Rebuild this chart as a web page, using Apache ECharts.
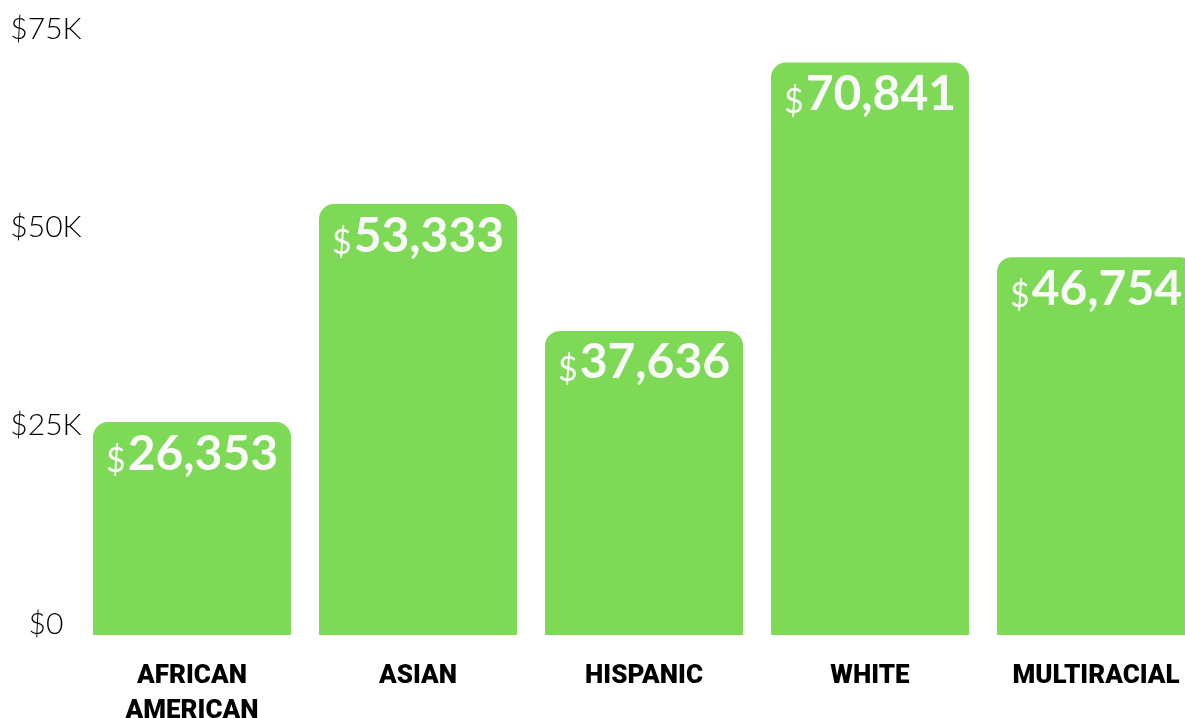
<!DOCTYPE html>
<html>
<head>
<meta charset="utf-8">
<script src="https://cdn.jsdelivr.net/npm/echarts@6/dist/echarts.min.js"></script>
<style>
html,body{margin:0;padding:0;background:#fff;}
#c{width:1185px;height:718px;}
</style>
</head>
<body>
<div id="c"></div>
<script>
const categories = ['AFRICAN\nAMERICAN', 'ASIAN', 'HISPANIC', 'WHITE', 'MULTIRACIAL'];
const incomes = [26353, 53333, 37636, 70841, 46754];
const yTickLabels = ['$0', '$25K', '$50K', '$75K'];

const chart = echarts.init(document.getElementById('c'));
chart.setOption({
  backgroundColor: '#ffffff',
  animation: false,
  grid: [
    { left: 79, width: 1130, top: 29, bottom: 83, outerBoundsMode: 'none', containLabel: false },
    { left: 79, width: 1130, top: 29, bottom: 94, outerBoundsMode: 'none', containLabel: false }
  ],
  xAxis: [
    {
      type: 'category', gridIndex: 0, data: categories,
      axisLine: { show: false }, axisTick: { show: false },
      axisLabel: {
        interval: 0, margin: 24, color: '#000',
        fontFamily: 'Roboto', fontWeight: 900, fontSize: 26, lineHeight: 35
      }
    },
    { type: 'category', gridIndex: 1, data: categories, show: false }
  ],
  yAxis: [
    {
      type: 'value', gridIndex: 0, min: 0, max: 75000, interval: 25000,
      axisLabel: { show: false }, axisLine: { show: false }, axisTick: { show: false },
      splitLine: { show: false }
    },
    {
      type: 'value', gridIndex: 1, min: 0, max: 75000, interval: 25000,
      axisLine: { show: false }, axisTick: { show: false }, splitLine: { show: false },
      axisLabel: {
        align: 'center', margin: 33, color: '#000',
        fontFamily: 'Lato', fontWeight: 300, fontSize: 30,
        formatter: function (v) { return yTickLabels[Math.round(v / 25000)]; }
      }
    }
  ],
  series: [{
    type: 'bar',
    xAxisIndex: 0, yAxisIndex: 0,
    data: incomes,
    barWidth: 198,
    itemStyle: { color: '#7ED957', borderRadius: [15, 15, 0, 0] },
    label: {
      show: true, position: 'insideTop', distance: 8,
      formatter: function (p) { return '{d|$}{n|' + p.value.toLocaleString('en-US') + '}'; },
      rich: {
        d: { fontFamily: 'Lato', fontWeight: 400, fontSize: 34, color: '#fafafa', lineHeight: 48, verticalAlign: 'bottom', padding: [0, 2, 0, 0] },
        n: { fontFamily: 'Lato', fontWeight: 700, fontSize: 48, color: '#fafafa', lineHeight: 48, verticalAlign: 'bottom' }
      }
    }
  }]
});
</script>
</body>
</html>
